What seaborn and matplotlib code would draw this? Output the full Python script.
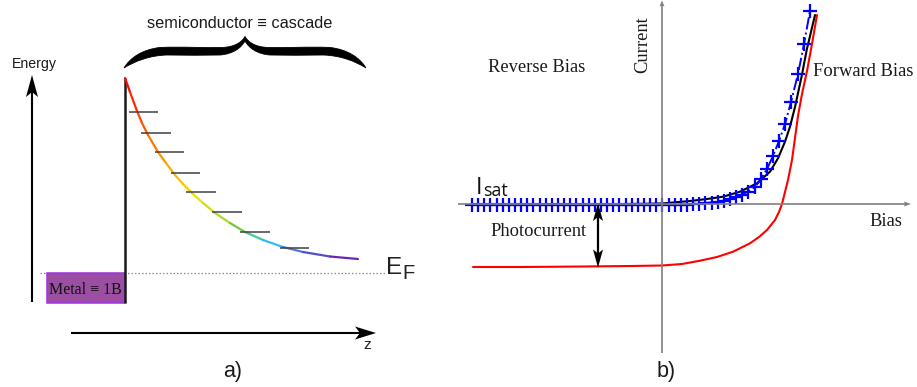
import numpy as np
import pandas as pd
import matplotlib
matplotlib.use("Agg")
import matplotlib.pyplot as plt
import seaborn as sns
from matplotlib import transforms
from matplotlib.collections import LineCollection
from matplotlib.colors import LinearSegmentedColormap
from matplotlib.path import Path
from matplotlib.patches import PathPatch, Polygon, Rectangle

W, H = 917, 387

# ---------------- panel a: metal / semiconductor cascade ----------------
# z measured from the barrier, energy measured from the Fermi level
cascade_z = [0, 5, 12, 17, 23, 33, 41, 50, 58, 68, 78, 90, 105, 120, 138, 158, 178, 205, 233]
cascade_E = [195, 181, 162, 150, 138, 121, 110, 98, 89, 79, 70, 60, 50, 41, 33, 26, 21, 16.5, 14]

level_E = [161, 140, 121, 100, 81, 61, 41, 25]
level_z_start = [4, 16, 30, 46, 61, 87, 115, 155]
level_z_end = [33, 46, 59, 75, 91, 117, 145, 184]

barrier_z = 0
barrier_top = 195
metal_z = [-78, 0]
metal_E = [-30, 0]
fermi_z = [-85, 260]

# ---------------- panel b: current vs bias ----------------
dark_bias = [-189, -100, -40, 0, 28, 45, 61, 78, 95, 108, 116, 123, 128, 133, 139.5, 144.7, 153]
dark_current = [0, 0, 0, 0.5, 3, 5, 7.3, 12.3, 20.7, 32.3, 45.7, 62.3, 77.3, 97, 127, 154, 189]

light_bias = [-189, -140, -80, -30, 0, 20, 38, 55, 71, 88, 97, 105, 113, 117, 120, 123, 126,
              130, 133, 136, 140, 145, 150, 155]
light_current = [-63, -63, -62.5, -62, -61.5, -60, -56.7, -53, -47.7, -39.3, -33, -26, -16, -8,
                 0, 12, 24, 44, 66, 88, 110, 133, 160, 189]

fit_bias = [-190, -184, -178, -172, -165, -159, -153, -147, -141, -135, -129, -122, -116, -110,
            -104, -98, -92, -86, -79, -73, -67, -61, -55, -49, -43, -36, -30, -24, -18, -12,
            -6, 0, 7, 13, 19, 25, 31, 37, 43, 50, 56, 62, 68, 74, 80, 86, 93, 99, 105, 111,
            117, 123, 129, 136, 142, 148]
fit_current = [-1, -1, -1, -1, -1, -1, -1, -1, -1, -1, -1, -1, -1, -1,
               -1, -1, -1, -1, -1, -1, -1, -1, -1, -1, -1, -1, -1, -1, -1, -1,
               -1, -1, -1, -1, -1, -0.5, 0, 0.5, 1, 1.5, 2.5, 3.5, 5, 7, 9.5, 12.5, 17, 25,
               35, 48, 63, 80, 102, 130, 160, 193]

photo_bias = -64

sns.set_theme(style="white")
plt.rcParams["font.family"] = ["Liberation Sans", "DejaVu Sans"]

fig = plt.figure(figsize=(W / 100, H / 100), dpi=100)
fig.patch.set_facecolor("white")
# pixel frame with the origin at the top-left corner, used for annotations
PX = transforms.Affine2D().scale(1 / W, -1 / H).translate(0, 1) + fig.transFigure

ax_a = fig.add_axes([0, 0, 450 / W, 1])
ax_b = fig.add_axes([450 / W, 0, 1 - 450 / W, 1])
for ax in (ax_a, ax_b):
    ax.set_axis_off()
ax_a.set_xlim(-125, 325)
ax_a.set_ylim(-114, 273)
ax_b.set_xlim(-212, 255)
ax_b.set_ylim(-183, 204)


def arrow_head(tip, direction, length, half_width, notch, color, lw=0.0):
    tip = np.asarray(tip, float)
    d = np.asarray(direction, float)
    d = d / np.hypot(*d)
    n = np.array([-d[1], d[0]])
    base = tip - d * length
    pts = [tip, base + n * half_width, tip - d * (length - notch), base - n * half_width]
    fig.patches.append(Polygon(pts, closed=True, transform=PX, facecolor=color,
                               edgecolor=color, linewidth=lw, figure=fig))


def px_line(xs, ys, color, lw, **kw):
    fig.lines.append(plt.Line2D(xs, ys, transform=PX, color=color, linewidth=lw,
                                solid_capstyle="butt", figure=fig, **kw))


# ---- panel a ----
ax_a.plot(fermi_z, [0, 0], color="#8c8c8c", lw=0.9, linestyle=(0, (1.2, 1.6)), zorder=1)
ax_a.add_patch(Rectangle((metal_z[0], metal_E[0]), metal_z[1] - metal_z[0],
                         metal_E[1] - metal_E[0], facecolor="#9c4fa2",
                         edgecolor="#a032e6", linewidth=1.1, zorder=2))
ax_a.plot([barrier_z, barrier_z], [metal_E[0], barrier_top], color="#1a1a1a", lw=1.8,
          solid_capstyle="butt", zorder=3)

cz = np.asarray(cascade_z, float)
cE = np.asarray(cascade_E, float)
seg = np.stack([np.column_stack([cz[:-1], cE[:-1]]), np.column_stack([cz[1:], cE[1:]])], axis=1)
arc = np.concatenate([[0], np.cumsum(np.hypot(np.diff(cz), np.diff(cE)))])
mid = (arc[:-1] + arc[1:]) / 2 / arc[-1]
cascade_cmap = LinearSegmentedColormap.from_list(
    "cascade",
    [(0.0, "#ff0000"), (0.2, "#ff6a00"), (0.33, "#ffb000"), (0.45, "#f0e000"),
     (0.56, "#a8d830"), (0.63, "#50c040"), (0.70, "#20e0f0"), (0.78, "#4a80f0"),
     (0.90, "#5040c0"), (1.0, "#8a10a0")])
ax_a.add_collection(LineCollection(seg, colors=cascade_cmap(mid), linewidths=1.6,
                                   capstyle="round", joinstyle="round", zorder=4))
ax_a.hlines(level_E, level_z_start, level_z_end, color="#404040", lw=1.1, zorder=5)

# energy and z axes
px_line([32, 32], [302, 92], "black", 1.5)
arrow_head((32, 75), (0, -1), 22, 6, 5, "black")
px_line([71, 362], [333, 333], "black", 1.5)
arrow_head((376, 333), (1, 0), 21, 6.5, 5, "black")

# curly brace over the semiconductor
verts = [
    (124, 68), (130, 58), (142, 49.5), (160, 47.5),
    (180, 46.5), (205, 48), (222, 47.5),
    (235, 47), (242, 42), (245, 36.5),
    (248, 42), (255, 47), (268, 47.5),
    (285, 48), (310, 46.5), (330, 47.5),
    (348, 49.5), (360, 58), (366, 68),
    (355, 61), (340, 55.5), (323, 55),
    (305, 55.5), (285, 55), (270, 55),
    (257, 54), (249, 48), (245, 41),
    (241, 48), (233, 54), (220, 55),
    (205, 55.5), (185, 55), (167, 55),
    (150, 55.5), (135, 61), (124, 68),
]
codes = [Path.MOVETO] + [Path.CURVE4] * (len(verts) - 1)
fig.patches.append(PathPatch(Path(verts, codes), transform=PX, facecolor="black",
                             edgecolor="black", linewidth=0.6, figure=fig))

fig.text(240 / W, 1 - 23 / H, "semiconductor \u2261 cascade", ha="center", va="center",
         fontsize=11.7, color="#1a1a1a")
fig.text(34.5 / W, 1 - 64 / H, "Energy", ha="center", va="center", fontsize=10.2,
         color="#1a1a1a")
fig.text(85 / W, 1 - 290 / H, "Metal \u2261 1B", ha="center", va="center", fontsize=11.5,
         family=["Liberation Serif", "DejaVu Serif"], color="#111111")
fig.text(386.5 / W, 1 - 267.5 / H, "E", ha="left", va="center", fontsize=17.5,
         color="#222222")
fig.text(402 / W, 1 - 273.5 / H, "F", ha="left", va="center", fontsize=14.5,
         color="#222222")
fig.text(367.5 / W, 1 - 345 / H, "z", ha="center", va="center", fontsize=11,
         color="#222222")
fig.text(233 / W, 1 - 371 / H, "a)", ha="center", va="center", fontsize=15.5,
         color="#1a1a1a")

# ---- panel b ----
px_line([662, 662], [353, 5], "#808080", 1.2)
arrow_head((662, 0.5), (0, -1), 6, 2.5, 1, "#808080")
px_line([458, 906], [204, 204], "#808080", 1.2)
arrow_head((911, 204), (1, 0), 7, 2.5, 1, "#808080")

light = pd.DataFrame({"bias": light_bias, "current": light_current})
dark = pd.DataFrame({"bias": dark_bias, "current": dark_current})
fit = pd.DataFrame({"bias": fit_bias, "current": fit_current})

sns.lineplot(data=light, x="bias", y="current", ax=ax_b, color="#ff0000", lw=1.5,
             sort=False, estimator=None, zorder=3)
sns.lineplot(data=dark, x="bias", y="current", ax=ax_b, color="black", lw=1.5,
             sort=False, estimator=None, zorder=4)
sns.lineplot(data=fit, x="bias", y="current", ax=ax_b, color="#0000ff", lw=1.4,
             linestyle="-.", marker="+", markersize=10.5, markeredgewidth=1.6,
             markeredgecolor="#0000ff", sort=False, estimator=None, zorder=5)

# photocurrent double arrow between the dark and illuminated curves
photo_top = 204 - fit_current[0] - 2
photo_bottom = 204 - light_current[0] + 0.5
px_line([662 + photo_bias] * 2, [photo_top + 14, photo_bottom - 14], "black", 1.6)
arrow_head((662 + photo_bias, photo_top), (0, -1), 18, 5, 4, "black")
arrow_head((662 + photo_bias, photo_bottom), (0, 1), 18, 5, 4, "black")

serif = ["Liberation Serif", "DejaVu Serif"]
fig.text(537 / W, 1 - 68 / H, "Reverse Bias", ha="center", va="center", fontsize=13.3,
         family=serif, color="#1a1a1a")
fig.text(863 / W, 1 - 72 / H, "Forward Bias", ha="center", va="center", fontsize=13.3,
         family=serif, color="#1a1a1a")
fig.text(643 / W, 1 - 45 / H, "Current", ha="center", va="center", rotation=90,
         fontsize=13.3, family=serif, color="#1a1a1a")
fig.text(886 / W, 1 - 222 / H, "Bias", ha="center", va="center", fontsize=13.3,
         family=serif, color="#1a1a1a")
fig.text(538.5 / W, 1 - 232 / H, "Photocurrent", ha="center", va="center", fontsize=13.3,
         family=serif, color="#1a1a1a")
sans = ["Open Sans", "DejaVu Sans"]
fig.text(476 / W, 1 - 193.5 / H, "I", ha="left", va="baseline", fontsize=16.8,
         family=sans, color="#111111")
fig.text(483 / W, 1 - 195.5 / H, "sat", ha="left", va="baseline", fontsize=12.9,
         family=sans, color="#111111")
fig.text(666 / W, 1 - 371 / H, "b)", ha="center", va="center", fontsize=15.5,
         color="#1a1a1a")

fig.savefig("out.png", dpi=100, facecolor="white")
